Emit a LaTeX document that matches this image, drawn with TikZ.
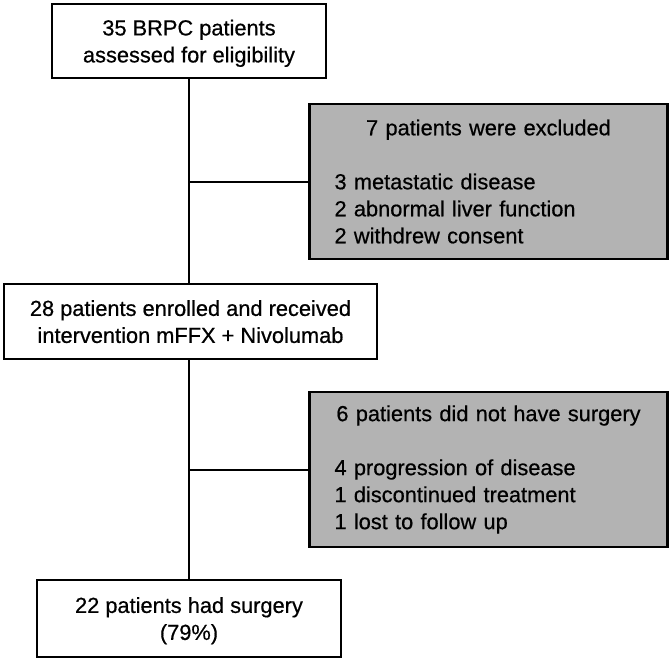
\documentclass[tikz,border=0pt]{standalone}
\usepackage{fontspec}
\setmainfont{Liberation Sans}[FakeBold=0.6]
\definecolor{boxgray}{RGB}{179,179,179}
\begin{document}
\begin{tikzpicture}[x=1pt,y=-1pt,
  every node/.style={font=\fontsize{21.8}{27}\selectfont},
  wbox/.style={draw=black, line width=2.6pt, fill=white, align=center, inner sep=0pt, text depth=0pt},
  gbox/.style={draw=black, line width=2.6pt, fill=boxgray, align=left, inner xsep=25pt, inner ysep=0pt,
    text width=308pt, minimum width=358pt, minimum height=155pt},
  conn/.style={draw=black, line width=2pt}]
\useasboundingbox (0,0) rectangle (669,659);
\node[wbox, minimum width=274pt, minimum height=74pt] (b1) at (189,41)
  {35 BRPC patients\\assessed for eligibility};
\node[gbox] (g1) at (488.5,181.5)
  {\makebox[\linewidth][c]{7 patients were excluded}\\[27pt]
   3 metastatic disease\\2 abnormal liver function\\2 withdrew consent};
\node[wbox, minimum width=373pt, minimum height=75pt] (b2) at (190.5,321.5)
  {28 patients enrolled and received\\intervention mFFX + Nivolumab};
\node[gbox] (g2) at (488.5,469.5)
  {\makebox[\linewidth][c]{6 patients did not have surgery}\\[27pt]
   4 progression of disease\\1 discontinued treatment\\1 lost to follow up};
\node[wbox, minimum width=304pt, minimum height=77pt] (b3) at (189,618.5)
  {22 patients had surgery\\(79\%)};
\draw[conn] (b1.south) -- (b1.south |- b2.north);
\draw[conn] (b1.south |- g1.west) -- (g1.west);
\draw[conn] (b1.south |- b2.south) -- (b3.north);
\draw[conn] (b3.north |- g2.west) -- (g2.west);
\end{tikzpicture}
\end{document}
